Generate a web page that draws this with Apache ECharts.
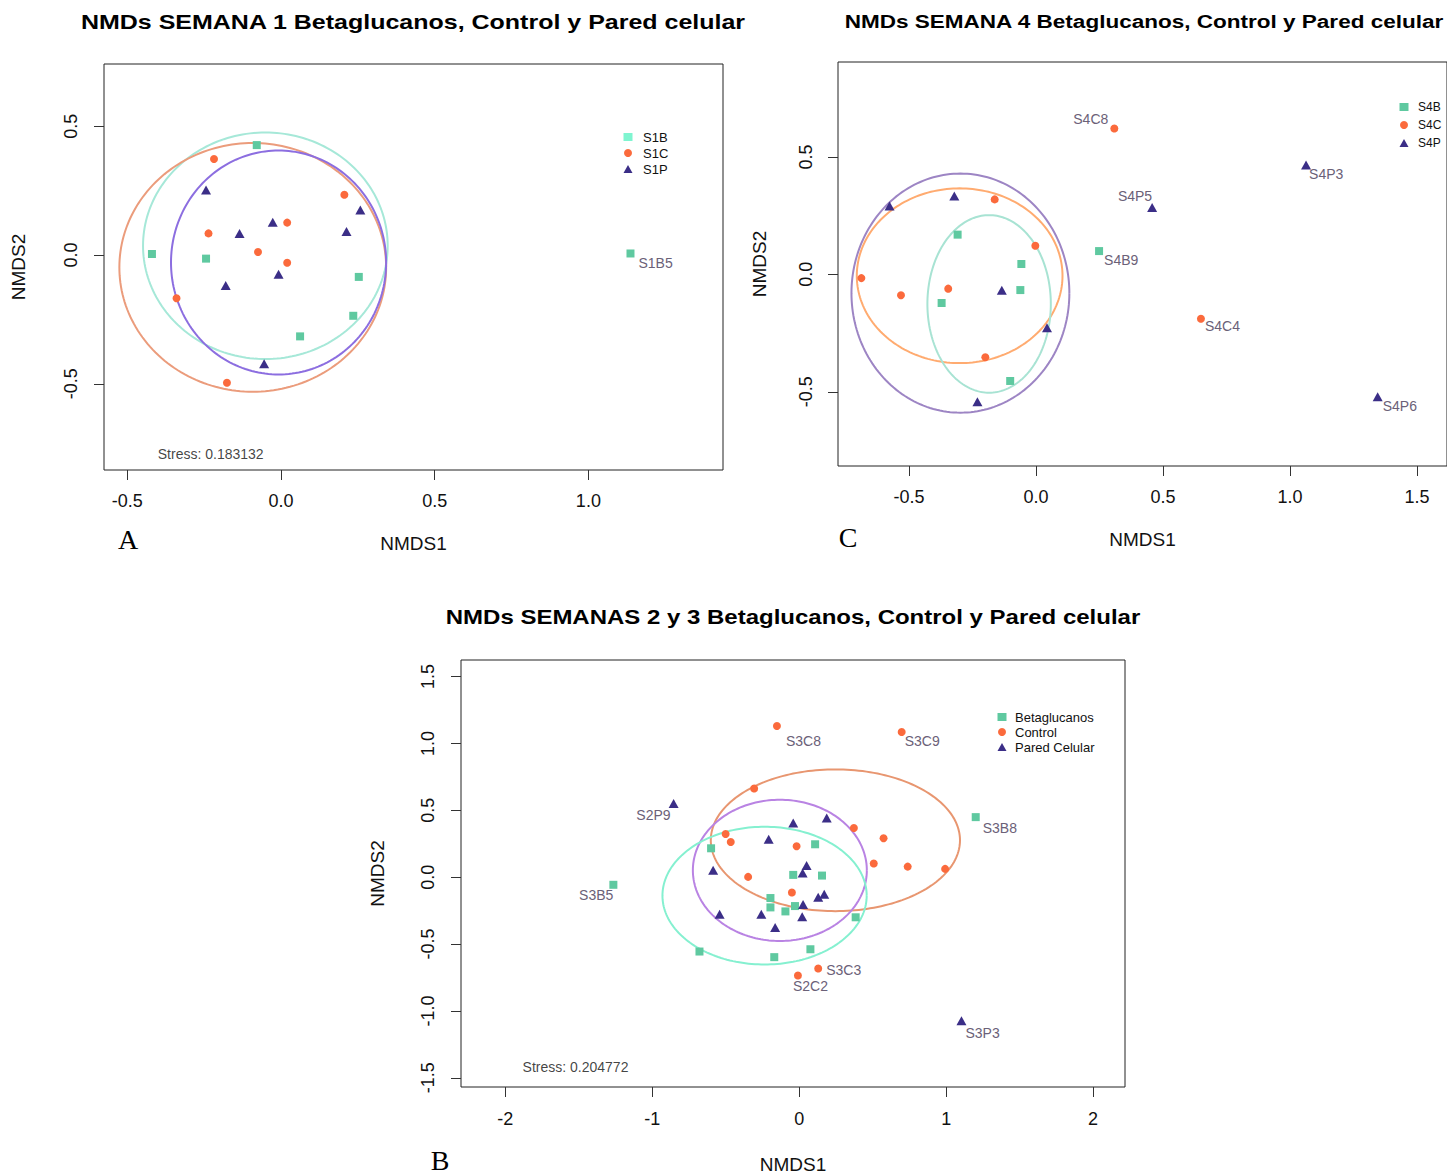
<!DOCTYPE html>
<html><head><meta charset="utf-8">
<script src="https://cdn.jsdelivr.net/npm/echarts@6/dist/echarts.min.js"></script>
<style>html,body{margin:0;padding:0;background:#fff}#c{width:1447px;height:1175px}</style>
</head><body><div id="c"></div>
<script>
// ---------- DATA ----------
// Panel A (Semana 1)  [NMDS1, NMDS2, label]
const s1B = [[-0.079,0.427,''],[-0.420,0.004,''],[-0.244,-0.014,''],[0.253,-0.085,''],[0.235,-0.236,''],[0.062,-0.316,''],[1.137,0.006,'S1B5']];
const s1C = [[-0.218,0.373,''],[0.206,0.234,''],[0.020,0.126,''],[-0.236,0.084,''],[-0.075,0.012,''],[0.020,-0.030,''],[-0.340,-0.168,''],[-0.176,-0.496,'']];
const s1P = [[-0.244,0.253,''],[0.258,0.175,''],[-0.027,0.127,''],[-0.135,0.084,''],[0.213,0.091,''],[-0.008,-0.075,''],[-0.180,-0.118,''],[-0.055,-0.422,'']];
// ellipses: [cx, cy, rx, ry, angleDeg]
const ellA = [[-0.051,0.036,0.398,0.440,0],[-0.092,-0.048,0.434,0.483,0],[-0.008,-0.029,0.350,0.435,0]];
const stressA = [[-0.401,-0.773,'Stress: 0.183132']];
const xTicksA = [-0.5,0,0.5,1.0];
const yTicksA = [-0.5,0,0.5];

// Panel C (Semana 4)
const s4B = [[-0.309,0.169,''],[-0.058,0.044,''],[-0.062,-0.067,''],[-0.372,-0.122,''],[-0.102,-0.454,''],[0.248,0.099,'S4B9']];
const s4C = [[0.308,0.621,'S4C8'],[-0.163,0.319,''],[-0.003,0.122,''],[-0.688,-0.016,''],[-0.532,-0.089,''],[-0.346,-0.061,''],[-0.200,-0.353,''],[0.649,-0.189,'S4C4']];
const s4P = [[-0.577,0.291,''],[-0.322,0.333,''],[-0.135,-0.068,''],[0.043,-0.227,''],[-0.231,-0.542,''],[0.457,0.285,'S4P5'],[1.063,0.465,'S4P3'],[1.345,-0.521,'S4P6']];
const ellC = [[-0.298,-0.080,0.429,0.509,0],[-0.301,-0.006,0.405,0.372,0],[-0.185,-0.126,0.243,0.378,0]];
const xTicksC = [-0.5,0,0.5,1.0,1.5];
const yTicksC = [-0.5,0,0.5];

// Panel B (Semanas 2 y 3)
const betaB = [[-1.265,-0.057,'S3B5'],[1.201,0.449,'S3B8'],[-0.600,0.216,''],[0.108,0.246,''],[-0.041,0.017,''],[0.155,0.012,''],[-0.196,-0.156,''],[-0.196,-0.226,''],[-0.094,-0.256,''],[-0.029,-0.216,''],[0.384,-0.300,''],[-0.679,-0.556,''],[-0.170,-0.598,''],[0.076,-0.539,'']];
const ctrlB = [[-0.152,1.130,'S3C8'],[0.697,1.085,'S3C9'],[-0.307,0.663,''],[-0.501,0.323,''],[-0.466,0.263,''],[-0.018,0.231,''],[0.372,0.368,''],[0.574,0.291,''],[0.507,0.102,''],[0.738,0.079,''],[0.993,0.062,''],[-0.348,0.002,''],[-0.050,-0.114,''],[0.129,-0.683,'S3C3'],[-0.009,-0.735,'S2C2']];
const pareB = [[-0.855,0.551,'S2P9'],[0.187,0.442,''],[-0.041,0.405,''],[-0.208,0.283,''],[-0.586,0.052,''],[0.050,0.087,''],[0.023,0.032,''],[0.170,-0.127,''],[0.129,-0.151,''],[0.026,-0.204,''],[-0.542,-0.278,''],[-0.258,-0.278,''],[0.020,-0.296,''],[-0.164,-0.377,''],[1.104,-1.073,'S3P3']];
const ellB = [[0.246,0.276,0.848,0.530,0],[-0.132,0.051,0.592,0.528,0],[-0.236,-0.138,0.695,0.515,0]];
const stressB = [[-1.883,-1.420,'Stress: 0.204772']];
const xTicksB = [-2,-1,0,1,2];
const yTicksB = [-1.5,-1.0,-0.5,0,0.5,1.0,1.5];

// ---------- STYLE ----------
const F = '"Liberation Sans", Arial, sans-serif';
const COL_SQ = '#5fc9a0', COL_CI = '#fb6a3c', COL_TR = '#3b2e87';
const LABEL_COL = '#6b6178';
// label placement: [align, dx, dy]
const labelPlace = {
  S1B5:['left',8,10],
  S4C8:['right',-6,-9], S4P5:['right',0,-11], S4B9:['left',5,9], S4C4:['left',4,7], S4P3:['left',3,9], S4P6:['left',5,9],
  S3C8:['left',9,15], S3C9:['left',3,9], S2P9:['right',-3,12], S3B5:['right',0,10], S3B8:['left',7,11],
  S3C3:['left',8,1], S2C2:['left',-5,11], S3P3:['left',4,12]
};

function pts(arr){
  return arr.map(d => {
    const item = {value: d};
    const p = labelPlace[d[2]];
    if (p) item.label = {show:true, position:'inside', align:p[0], verticalAlign:'middle', offset:[p[1],p[2]],
      formatter: d[2], color: LABEL_COL, fontSize: 14, fontFamily: F};
    return item;
  });
}
function scatter(name, data, sym, size, color, gi){
  return {type:'scatter', name, xAxisIndex:gi, yAxisIndex:gi, data:pts(data), symbol:sym, symbolSize:size,
    itemStyle:{color, opacity:1}, emphasis:{disabled:true}, z:3, label:{show:false}};
}
function ellipses(list, colors, gi){
  return {type:'custom', xAxisIndex:gi, yAxisIndex:gi, data:list, silent:true, z:2, encode:{x:0,y:1},
    renderItem:(params, api) => {
      const cx=api.value(0), cy=api.value(1), rx=api.value(2), ry=api.value(3), a=api.value(4)*Math.PI/180;
      const p=[];
      for(let i=0;i<=200;i++){
        const t=i/200*2*Math.PI;
        const x=cx+rx*Math.cos(t)*Math.cos(a)-ry*Math.sin(t)*Math.sin(a);
        const y=cy+rx*Math.cos(t)*Math.sin(a)+ry*Math.sin(t)*Math.cos(a);
        p.push(api.coord([x,y]));
      }
      return {type:'polyline', shape:{points:p}, style:{fill:null, stroke:colors[params.dataIndex], lineWidth:2}};
    }};
}
function textSeries(data, gi){
  return {type:'scatter', xAxisIndex:gi, yAxisIndex:gi, symbolSize:0, silent:true, z:4,
    data:data.map(d=>({value:d})),
    label:{show:true, position:'inside', align:'left', verticalAlign:'middle', formatter:p=>p.value[2], color:'#111', fontSize:14, fontFamily:F}};
}
function axisX(gi,min,max,ticks,dec,gap,margin){
  return {type:'value', gridIndex:gi, position:'bottom', min, max, name:'NMDS1', nameLocation:'middle', nameGap:gap,
    nameTextStyle:{fontSize:19, color:'#111', fontFamily:F},
    axisLine:{show:false, onZero:false}, splitLine:{show:false},
    axisTick:{show:true, inside:false, length:10, lineStyle:{color:'#333'}, customValues:ticks},
    axisLabel:{customValues:ticks, margin, fontSize:18, color:'#111', fontFamily:F, formatter:v=>dec?Number(v).toFixed(1):String(v)}};
}
function axisY(gi,min,max,ticks,gap,margin){
  return {type:'value', gridIndex:gi, position:'left', min, max, name:'NMDS2', nameLocation:'middle', nameGap:gap,
    nameTextStyle:{fontSize:19, color:'#111', fontFamily:F},
    axisLine:{show:false, onZero:false}, splitLine:{show:false},
    axisTick:{show:true, inside:false, length:10, lineStyle:{color:'#333'}, customValues:ticks},
    axisLabel:{customValues:ticks, margin, rotate:90, fontSize:18, color:'#111', fontFamily:F, formatter:v=>Number(v).toFixed(1)}};
}
// legend: icon centre x, first row centre y, row height, font size, text gap from icon centre
function legend(names, cx, cy, lh, fs, gap, firstColor){
  const data = names.map((n,i)=> (i===0 && firstColor) ? {name:n, itemStyle:{color:firstColor}} : n);
  return {data, orient:'vertical', left:cx-4.5, top:cy-lh/2, padding:0, itemWidth:9, itemHeight:8, itemGap:0, selectedMode:false,
    textStyle:{fontSize:fs, lineHeight:lh, color:'#111', fontFamily:F, padding:[0,0,0,gap-9.5]}};
}
function title(text, x, y, size, sx){
  return {type:'text', x, y, scaleX:sx, style:{text, font:'bold '+size+'px '+F, fill:'#000', textAlign:'center', textVerticalAlign:'middle'}};
}
function letter(text, x, y){
  return {type:'text', x, y, style:{text, font:'28px "Liberation Serif", "Times New Roman", serif', fill:'#000', textAlign:'center', textVerticalAlign:'middle'}};
}

const chart = echarts.init(document.getElementById('c'), null, {renderer:'svg'});
chart.setOption({
  animation:false,
  backgroundColor:'#fff',
  grid:[
    {left:104, top:64, width:619, height:406, show:true, borderColor:'#222', borderWidth:1, containLabel:false},
    {left:838, top:62, width:614, height:404, show:true, borderColor:'#222', borderWidth:1, containLabel:false},
    {left:461, top:660, width:664, height:427, show:true, borderColor:'#222', borderWidth:1, containLabel:false}
  ],
  xAxis:[
    axisX(0,-0.576,1.438,xTicksA,true,64,22),
    axisX(1,-0.78,1.618,xTicksC,true,64,22),
    axisX(2,-2.302,2.217,xTicksB,false,68,23)
  ],
  yAxis:[
    axisY(0,-0.835,0.742,yTicksA,76,24),
    axisY(1,-0.816,0.904,yTicksC,69,23),
    axisY(2,-1.569,1.624,yTicksB,74,24)
  ],
  legend:[
    legend(['S1B','S1C','S1P'],628,137,16,13,15,'#7ff5d0'),
    legend(['S4B','S4C','S4P'],1404,107,18,12,14),
    legend(['Betaglucanos','Control','Pared Celular'],1002,717,15,13,13)
  ],
  graphic:[
    title('NMDs SEMANA 1 Betaglucanos, Control y Pared celular',413,22,21,1.19),
    title('NMDs SEMANA 4 Betaglucanos, Control y Pared celular',1144,21,19,1.186),
    title('NMDs SEMANAS 2 y 3 Betaglucanos, Control y Pared celular',793,617,20,1.2),
    letter('A',128,539),
    letter('C',848,537),
    letter('B',440,1160)
  ],
  series:[
    ellipses(ellA,['#a6e8d8','#eb9c7c','#8c6ee0'],0),
    scatter('S1B',s1B,'rect',8,COL_SQ,0),
    scatter('S1C',s1C,'circle',8,COL_CI,0),
    scatter('S1P',s1P,'triangle',[10,9],COL_TR,0),
    textSeries(stressA,0),

    ellipses(ellC,['#9d85c4','#ffab70','#a8e3d3'],1),
    scatter('S4B',s4B,'rect',8,COL_SQ,1),
    scatter('S4C',s4C,'circle',8,COL_CI,1),
    scatter('S4P',s4P,'triangle',[10,9],COL_TR,1),

    ellipses(ellB,['#e89670','#b983e3','#85f0d0'],2),
    scatter('Betaglucanos',betaB,'rect',8,COL_SQ,2),
    scatter('Control',ctrlB,'circle',8,COL_CI,2),
    scatter('Pared Celular',pareB,'triangle',[10,9],COL_TR,2),
    textSeries(stressB,2)
  ]
});
</script>
</body></html>
